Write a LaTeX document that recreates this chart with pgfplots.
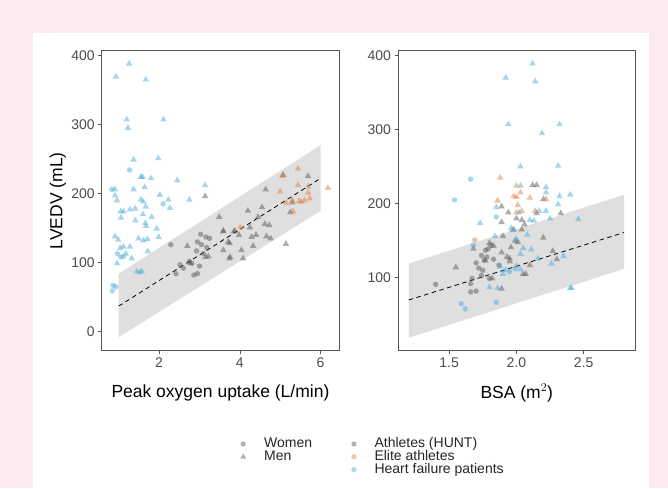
\documentclass[border=0pt]{standalone}
\usepackage{fontspec}
\setmainfont{Liberation Sans}
\usepackage{pgfplots}
\pgfplotsset{compat=1.18}

\definecolor{bgpink}{RGB}{250,233,240}
\definecolor{bandgrey}{RGB}{223,223,223}
\definecolor{hunt}{RGB}{85,85,85}
\definecolor{elite}{RGB}{222,125,55}
\definecolor{hf}{RGB}{70,170,215}
\definecolor{framegrey}{RGB}{85,85,85}
\definecolor{labgrey}{RGB}{77,77,77}

\pgfplotsset{
  panel/.style={
    scale only axis, width=237.5pt, height=300pt,
    axis line style={framegrey, line width=0.6pt},
    tick style={framegrey, line width=0.6pt},
    tick align=outside, major tick length=3.5pt, tick pos=left,
    ticklabel style={font=\fontsize{14}{14}\selectfont, text=labgrey},
    label style={font=\fontsize{17.5}{20}\selectfont},
    /pgf/number format/assume math mode=true,
    legend cell align=left,
  },
  wom/.style={only marks, mark=*, mark size=2.7pt,
    mark options={draw=#1, draw opacity=0, fill=#1, fill opacity=0.48}, forget plot},
  men/.style={only marks, mark=triangle*, mark size=3.8pt,
    mark options={draw=#1, draw opacity=0, fill=#1, fill opacity=0.48}, forget plot},
  leg/.style={legend style={draw=none, fill=none,
    font=\fontsize{14}{14}\selectfont, text=black!85,
    nodes={inner sep=0pt, text height=10pt, text depth=2.5pt},
    row sep=0.3pt, /tikz/every odd column/.append style={column sep=18pt}}},
}

\begin{document}
\begin{tikzpicture}
\fill[bgpink] (0pt,0pt) rectangle (668pt,488pt);
\fill[white] (33pt,0pt) rectangle (649pt,455pt);

% left panel: peak oxygen uptake
\begin{axis}[panel, leg,
    at={(101.7pt,137.3pt)}, anchor=south west,
    xmin=0.58, xmax=6.46, ymin=-27.5, ymax=406.7,
    xtick={2,4,6}, ytick={0,100,200,300,400},
    xlabel={Peak oxygen uptake (L/min)}, ylabel={LVEDV (mL)},
    xlabel style={at={(axis description cs:0.5,-0.141)}, anchor=center},
    ylabel style={at={(axis description cs:-0.185,0.5)}, anchor=center},
    legend style={at={(axis description cs:0.57,-0.283)}, anchor=north west}]
\addplot[fill=bandgrey, draw=none, forget plot] coordinates {(1,-8) (6,175) (6,270) (1,84)} -- cycle;
% athletes (HUNT)
\addplot[wom=hunt] coordinates {
(2.29,126) (3.03,141) (3.16,137) (2.95,130) (3.05,126) (3.18,122) (2.93,117)
(3.10,113) (2.81,99) (2.52,97) (2.42,84) (2.86,82) (2.95,84) (3.00,95)
(2.60,92) (2.75,102) (3.25,135)};
\addplot[men=hunt] coordinates {
(3.14,196) (3.49,166) (2.70,124) (3.22,109) (2.77,99) (3.59,145) (3.71,130)
(3.76,108) (4.64,206) (4.20,175) (4.45,166) (3.59,146) (3.88,146) (4.25,151)
(4.62,156) (4.73,154) (3.98,140) (4.29,137) (4.66,138) (4.76,135) (3.75,128)
(3.59,118) (4.04,118) (4.33,124) (3.74,106) (4.08,106) (5.14,127) (5.07,227)
(5.69,225) (5.30,187) (4.55,180) (3.85,145) (3.15,108) (5.25,173) (4.40,140)};
% elite athletes
\addplot[wom=elite] coordinates {(4.02,151)};
\addplot[men=elite] coordinates {
(5.44,236) (5.00,203) (5.44,212) (5.69,210) (5.73,193) (6.18,208) (5.15,186)
(5.32,174) (5.47,189) (5.52,188) (5.69,201) (5.05,225) (5.30,190) (5.60,190)};
% heart failure patients
\addplot[wom=hf] coordinates {
(0.83,206) (0.97,113) (1.05,108) (0.86,67) (0.93,65) (0.84,59) (1.27,234)
(2.10,185) (1.12,109)};
\addplot[men=hf] coordinates {
(0.93,369) (1.26,388) (1.67,365) (1.20,307) (1.23,295) (2.11,307) (1.37,249)
(1.98,251) (1.59,224) (1.55,224) (1.80,222) (2.45,219) (3.14,212) (0.91,206)
(1.37,206) (1.64,209) (0.91,197) (0.96,190) (2.02,198) (2.23,191) (2.27,179)
(2.75,191) (1.61,188) (1.67,181) (1.41,178) (1.28,177) (1.05,174) (1.12,174)
(1.06,165) (1.41,161) (1.66,157) (1.68,153) (1.82,166) (1.94,149) (1.99,137)
(0.91,138) (0.99,133) (1.49,135) (1.61,132) (1.71,134) (1.12,123) (1.04,121)
(1.28,123) (1.72,116) (1.32,106) (0.96,99) (1.45,87) (1.57,87) (1.52,86)
(1.18,113) (1.55,191) (1.60,170)};
\addplot[black, dashed, dash pattern=on 4.5pt off 3.5pt, line width=0.8pt, forget plot] coordinates {(1,37) (6,222)};
\addlegendimage{only marks, mark=*, mark size=2.6pt, mark options={draw=hunt, draw opacity=0, fill=hunt, fill opacity=0.45}}
\addlegendentry{Women}
\addlegendimage{only marks, mark=triangle*, mark size=3.4pt, mark options={draw=hunt, draw opacity=0, fill=hunt, fill opacity=0.45}}
\addlegendentry{Men}
\end{axis}

% right panel: BSA
\begin{axis}[panel, leg,
    at={(398pt,137.3pt)}, anchor=south west,
    xmin=1.12, xmax=2.885, ymin=1.5, ymax=406.4,
    xtick={1.5,2,2.5}, ytick={100,200,300,400},
    xticklabel style={/pgf/number format/.cd, fixed, fixed zerofill, precision=1},
    xlabel={BSA (m$^2$)},
    xlabel style={at={(axis description cs:0.5,-0.141)}, anchor=center},
    legend style={at={(axis description cs:-0.21,-0.283)}, anchor=north west}]
\addplot[fill=bandgrey, draw=none, forget plot] coordinates {(1.2,19) (2.8,112) (2.8,212) (1.2,119)} -- cycle;
% athletes (HUNT)
\addplot[wom=hunt] coordinates {
(1.40,91) (1.77,137) (1.79,139) (1.74,130) (1.83,125) (1.70,120) (1.72,113)
(1.87,117) (1.75,110) (1.74,103) (1.80,99) (1.67,99) (1.66,92) (1.66,81)
(1.70,82) (1.78,128) (1.81,144) (1.76,124)};
\addplot[men=hunt] coordinates {
(2.12,225) (2.15,225) (2.20,206) (1.89,196) (1.94,188) (2.33,187) (2.04,178)
(2.06,172) (1.89,175) (1.90,156) (2.01,148) (2.20,154) (1.80,147) (1.83,143)
(1.68,139) (1.96,141) (1.89,134) (1.77,123) (1.93,128) (1.95,126) (2.27,136)
(2.10,117) (2.05,105) (2.07,105) (1.82,99) (1.55,114) (1.89,85) (2.00,180)
(1.98,165) (2.04,165) (2.15,187) (2.30,125) (1.95,122) (1.99,150)};
% elite athletes
\addplot[wom=elite] coordinates {(1.69,151)};
\addplot[men=elite] coordinates {
(1.88,235) (2.00,224) (2.00,209) (2.22,206) (1.86,204) (2.00,188) (2.14,190)
(2.01,198) (2.04,190) (2.10,208) (1.98,210) (2.03,215)};
% heart failure patients
\addplot[wom=hf] coordinates {
(1.66,233) (1.54,205) (1.85,182) (1.59,65) (1.62,58) (1.85,67) (1.68,144)
(1.99,112) (1.95,108)};
\addplot[men=hf] coordinates {
(2.12,389) (1.92,370) (2.14,365) (1.94,307) (2.32,307) (2.19,295) (2.03,250)
(2.31,251) (2.40,212) (2.32,210) (2.46,179) (2.41,86) (1.73,174) (2.03,224)
(2.22,222) (2.22,215) (2.31,199) (1.85,195) (2.02,188) (2.17,190) (2.22,190)
(2.10,178) (2.13,177) (1.96,167) (1.97,164) (1.84,156) (2.00,152) (2.08,158)
(2.11,138) (2.03,132) (2.35,129) (2.26,119) (2.16,126) (2.00,116) (2.03,111)
(1.90,105) (1.80,87) (1.86,86) (2.40,86) (1.88,115) (1.92,110) (2.05,140)
(2.25,180)};
\addplot[black, dashed, dash pattern=on 4.5pt off 3.5pt, line width=0.8pt, forget plot] coordinates {(1.2,70) (2.8,161)};
\addlegendimage{only marks, mark=*, mark size=2.6pt, mark options={draw=hunt, draw opacity=0, fill=hunt, fill opacity=0.45}}
\addlegendentry{Athletes (HUNT)}
\addlegendimage{only marks, mark=*, mark size=2.6pt, mark options={draw=elite, draw opacity=0, fill=elite, fill opacity=0.45}}
\addlegendentry{Elite athletes}
\addlegendimage{only marks, mark=*, mark size=2.6pt, mark options={draw=hf, draw opacity=0, fill=hf, fill opacity=0.45}}
\addlegendentry{Heart failure patients}
\end{axis}
\end{tikzpicture}
\end{document}
